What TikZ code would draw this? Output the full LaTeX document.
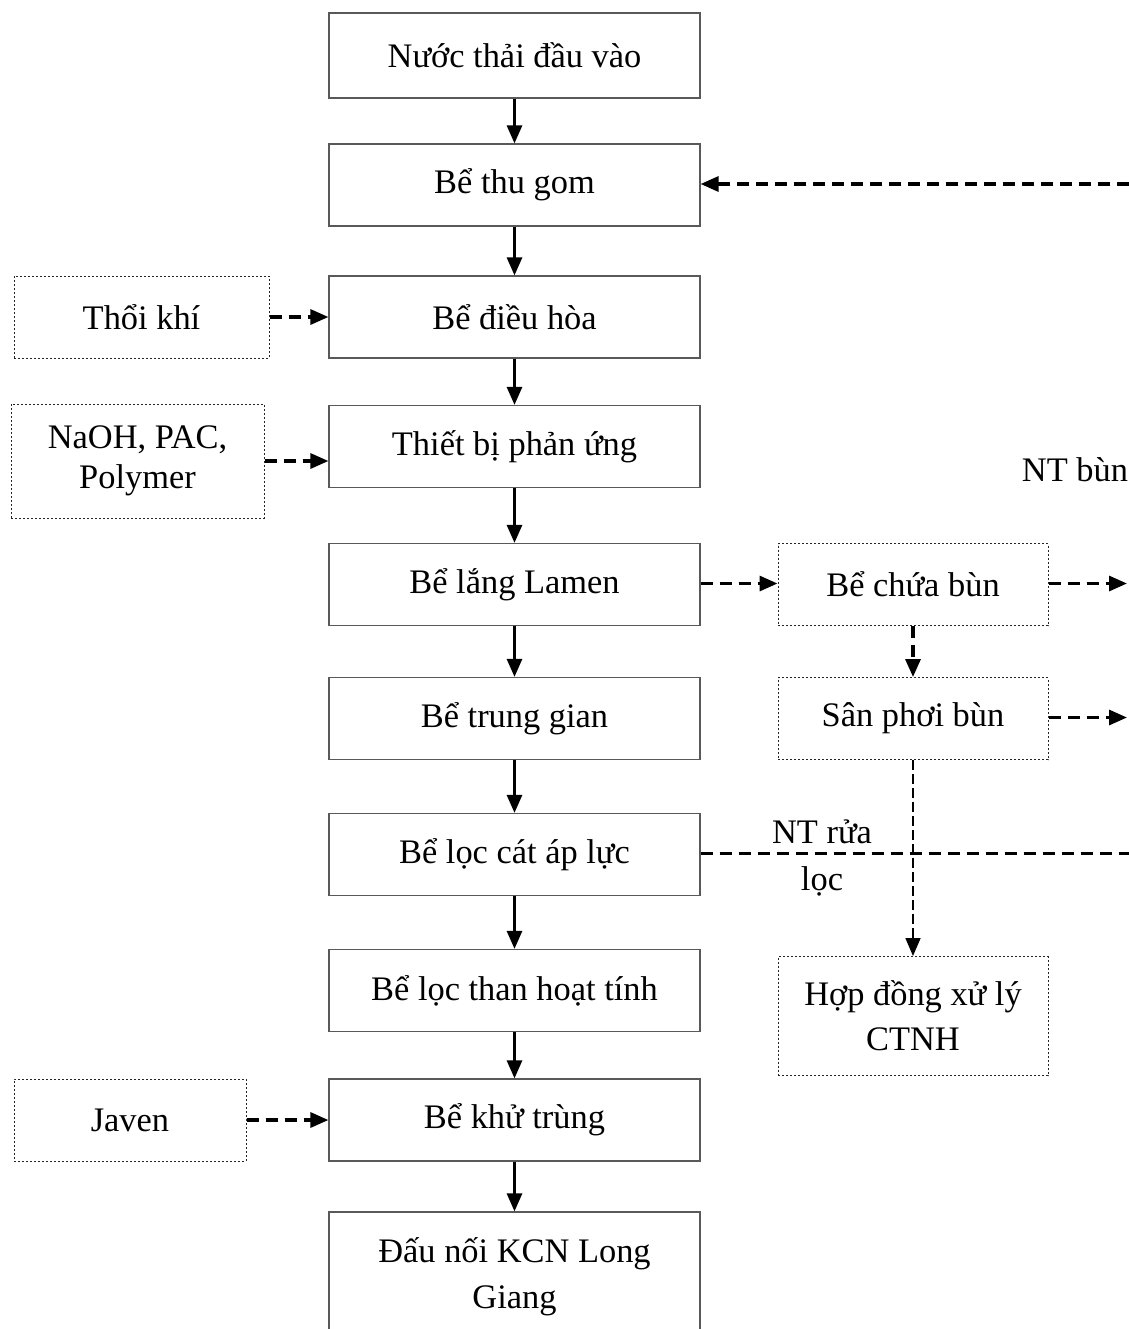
\documentclass[tikz,border=0pt]{standalone}
\usepackage{fontspec}
\setmainfont{Liberation Serif}
\usetikzlibrary{arrows.meta}
\tikzset{
	khoi/.style={draw=black!65, line width=0.6pt, minimum width=185.5pt, minimum height=41pt,
		inner sep=0pt, align=center, font=\fontsize{17.2}{23}\selectfont},
	khoiphu/.style={khoi, draw=black!85, line width=0.5pt, dash pattern=on 1pt off 1pt},
	nhan/.style={align=center, inner sep=0pt, font=\fontsize{17.2}{23.5}\selectfont},
	muiten/.style={-{Stealth[length=9pt,width=7.5pt,inset=0pt]}, line width=1.4pt},
	netdut/.style={muiten, line width=1.6pt, dash pattern=on 6pt off 3.5pt},
	netmanh/.style={muiten, line width=0.8pt, dash pattern=on 5pt off 2pt}
}
\begin{document}
\begin{tikzpicture}[x=0.5pt,y=-0.5pt]
		\clip (0,0) rectangle (1129,1329);
		\node[khoi, minimum height=42.5pt] (vao) at (514.5,55.5) {Nước thải đầu vào};
		\node[khoi] (thu) at (514.5,185) {Bể thu gom};
		\node[khoi] (dieu) at (514.5,317) {Bể điều hòa};
		\node[khoi] (pu) at (514.5,446.5) {Thiết bị phản ứng};
		\node[khoi] (lang) at (514.5,584.5) {Bể lắng Lamen};
		\node[khoi] (tg) at (514.5,718.5) {Bể trung gian};
		\node[khoi] (loccat) at (514.5,854.5) {Bể lọc cát áp lực};
		\node[khoi] (than) at (514.5,990.5) {Bể lọc than hoạt tính};
		\node[khoi] (khu) at (514.5,1120) {Bể khử trùng};
		\node[khoi, minimum height=64.5pt] (ra) at (514.5,1276.5) {Đấu nối KCN Long\\Giang};
		\node[khoiphu, minimum width=127.5pt] (khi) at (141.5,317) {Thổi khí};
		\node[khoiphu, minimum width=126.5pt, minimum height=57pt, font=\fontsize{17.2}{20}\selectfont] (hc) at (137.5,461) {NaOH, PAC,\\Polymer};
		\node[khoiphu, minimum width=116pt] (javen) at (130,1120) {Javen};
		\node[khoiphu, minimum width=135pt] (chua) at (913,584.5) {Bể chứa bùn};
		\node[khoiphu, minimum width=135pt] (san) at (913,718.5) {Sân phơi bùn};
		\node[khoiphu, minimum width=135pt, minimum height=59.5pt, font=\fontsize{17.2}{22.5}\selectfont] (hd) at (913,1016) {Hợp đồng xử lý\\CTNH};
		\node[nhan] (ntbun) at (1075,470) {NT bùn};
		\node[nhan] (ntrua) at (822,858) {NT rửa\\lọc};
		\coordinate (vethu) at (1129,184);
		\coordinate (rachua) at (1127,583.5);
		\coordinate (rasan) at (1127,717.5);
		\coordinate (raloc) at (1129,853.5);
		\path[muiten]
		(vao) edge (thu)
		(thu) edge (dieu)
		(dieu) edge (pu)
		(pu) edge (lang)
		(lang) edge (tg)
		(tg) edge (loccat)
		(loccat) edge (than)
		(than) edge (khu)
		(khu) edge (ra);
		\path[netdut]
		(vethu) edge (vethu -| thu.east)
		(khi.east) edge (khi.east -| dieu.west)
		(hc.east) edge (hc.east -| pu.west)
		(javen.east) edge (javen.east -| khu.west)
		(lang.east |- rachua) edge (chua.west |- rachua)
		(chua.east |- rachua) edge (rachua)
		(san.east |- rasan) edge (rasan)
		(chua) edge (san)
		(loccat.east |- raloc) edge[-] (raloc);
		\path[netmanh]
		(san) edge (hd);
\end{tikzpicture}
\end{document}
